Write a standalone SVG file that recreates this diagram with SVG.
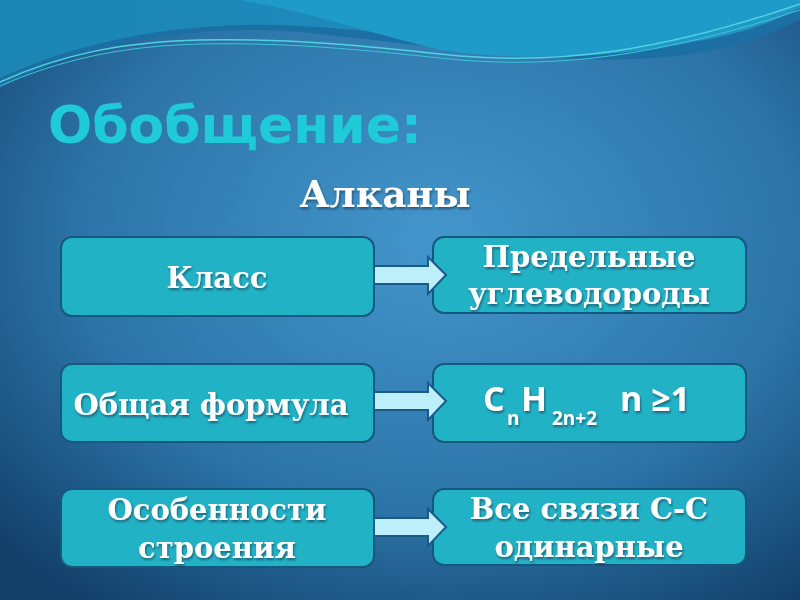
<svg xmlns="http://www.w3.org/2000/svg" width="800" height="600" viewBox="0 0 800 600">
<defs>
<radialGradient id="bg" cx="0.55" cy="0.4" r="0.75">
<stop offset="0" stop-color="#4396cc"/>
<stop offset="0.6" stop-color="#2c74a8"/>
<stop offset="1" stop-color="#123f68"/>
</radialGradient>
<linearGradient id="wave1" x1="0" y1="0" x2="1" y2="0">
<stop offset="0" stop-color="#1b8cb8"/>
<stop offset="0.5" stop-color="#1f90c2"/>
<stop offset="1" stop-color="#2a9fd0"/>
</linearGradient>
<filter id="sh" x="-10%" y="-10%" width="120%" height="130%">
<feDropShadow dx="1" dy="2" stdDeviation="1.2" flood-color="#0a2a45" flood-opacity="0.6"/>
</filter>
</defs>
<style>
.box{fill:#22b2c6;stroke:#15587e;stroke-width:2}
.arr{fill:#bdeffa;stroke:#1a5a88;stroke-width:2;stroke-linejoin:miter}
.t{font-family:"DejaVu Serif","Liberation Serif",serif;font-weight:bold;fill:#ffffff;font-size:29px;text-anchor:middle;filter:url(#sh)}
.f{font-family:"Open Sans","Liberation Sans",sans-serif;font-weight:bold;fill:#ffffff;filter:url(#sh)}
</style>
<rect width="800" height="600" fill="url(#bg)"/>
<g id="waves">
<path d="M0,0 H800 V20 C720,60 640,62 560,58 C460,52 380,40 300,32 C200,24 90,40 0,88 Z" fill="#1b6fa3"/>
<path d="M0,0 H800 V8 C740,40 660,52 560,48 C440,42 380,30 300,26 C200,20 90,36 0,78 Z" fill="url(#wave1)" opacity="0.8"/>
<path d="M240,0 C300,10 360,30 440,50 C520,62 620,58 700,40 C740,30 770,18 800,4 V0 Z" fill="#1f9bc9"/>
<path d="M0,82 C60,55 120,42 200,40 C300,38 380,48 460,56 C560,64 660,52 800,4" fill="none" stroke="#52d3df" stroke-width="1.5"/>
<path d="M0,86 C60,60 120,46 200,44 C300,42 380,52 460,60 C560,68 660,56 800,10" fill="none" stroke="#3cc6d8" stroke-width="1"/>
</g>
<g id="title">
<text x="48" y="143" font-family="'DejaVu Sans','Liberation Sans',sans-serif" font-weight="bold" font-size="52" fill="#1fcad9">Обобщение:</text>
<text x="385" y="207" class="t" style="font-size:37px">Алканы</text>
</g>
<g id="n1">
<rect class="box" x="61" y="237" width="313" height="79" rx="11"/>
<text class="t" x="217" y="288">Класс</text>
</g>
<g id="n2">
<rect class="box" x="433" y="237" width="313" height="76" rx="11"/>
<text class="t" x="589" y="267">Предельные</text>
<text class="t" x="589" y="304">углеводороды</text>
</g>
<g id="n3">
<rect class="box" x="61" y="364" width="313" height="78" rx="11"/>
<text class="t" x="211" y="415">Общая формула</text>
</g>
<g id="n4">
<rect class="box" x="433" y="364" width="313" height="78" rx="11"/>
<text class="f" font-size="34"><tspan x="483" y="411">C</tspan><tspan x="507" y="425" font-size="19">n</tspan><tspan x="521" y="411">H</tspan><tspan x="552" y="425" font-size="19">2n+2</tspan><tspan x="620" y="411">n ≥1</tspan></text>
</g>
<g id="n5">
<rect class="box" x="61" y="489" width="313" height="78" rx="11"/>
<text class="t" x="217" y="520">Особенности</text>
<text class="t" x="217" y="558">строения</text>
</g>
<g id="n6">
<rect class="box" x="433" y="489" width="313" height="76" rx="11"/>
<text class="t" x="589" y="519">Все связи С-С</text>
<text class="t" x="589" y="557">одинарные</text>
</g>
<g id="connectors">
<path class="arr" d="M374,266 H428 V257 L446,275 L428,294 V284 H374 Z"/>
<path class="arr" d="M374,392 H428 V383 L446,401 L428,420 V410 H374 Z"/>
<path class="arr" d="M374,518 H428 V509 L446,527 L428,546 V536 H374 Z"/>
</g>
</svg>
